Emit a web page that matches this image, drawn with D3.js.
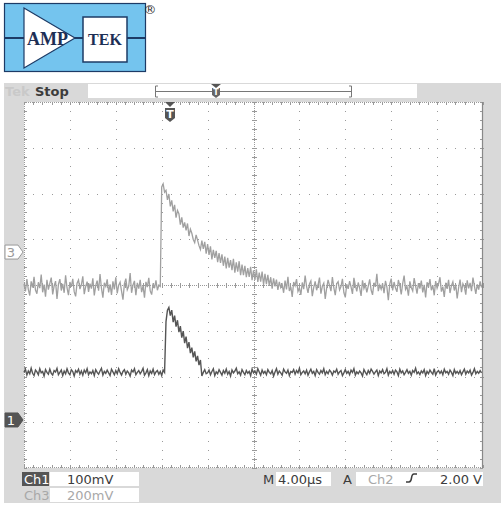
<!DOCTYPE html>
<html>
<head>
<meta charset="utf-8">
<title>Amptek scope capture</title>
<script src="https://d3js.org/d3.v7.min.js"></script>
<style>
  body { margin: 0; background: #fff; }
  text { font-family: "DejaVu Sans", sans-serif; }
</style>
</head>
<body>
<div id="chart"></div>
<script>
// settings
var timePerDiv = 4;      // us per division
var sampleStep = 0.125;  // us between samples
var ch1Scale = 100;      // mV per division
var ch3Scale = 200;
var ch1Ground = -2.95;   // ground marker position, divisions from centre
var ch3Ground = 0.72;

// Ch3 trace (mV), 320 samples
var ch3 = [
  -140,-172,-118,-163,-190,-128,-155,-108,-166,-182,
  -132,-158,-98,-176,-142,-195,-121,-164,-137,-112,
  -185,-148,-127,-205,-141,-118,-168,-139,-178,-102,
  -157,-188,-131,-152,-117,-173,-194,-136,-122,-162,
  -143,-106,-184,-151,-129,-174,-138,-160,-115,-190,
  -147,-125,-169,-96,-158,-199,-134,-150,-119,-176,
  -141,-187,-128,-163,-110,-181,-145,-132,-171,-208,
  -139,-116,-165,-150,-92,-178,-144,-126,-189,-135,
  -160,-121,-175,-148,-199,-130,-153,-113,-170,-186,
  -137,-158,-124,-167,-145,-150,
  285,298,262,270,228,254,200,226,178,206,
  150,182,168,120,152,107,130,95,125,70,
  100,82,55,41,75,52,28,11,50,14,
  45,-7,35,-12,25,-32,10,-25,5,-44,
  -5,-47,-10,-60,-20,-71,-25,-68,-35,-79,
  -30,-90,-45,-86,-40,-101,-55,-101,-60,-110,
  -70,-109,-65,-123,-80,-122,-75,-131,-90,-129,
  -85,-142,-95,-140,-100,-148,-110,-160,-115,-150,
  -120,-165,-130,-155,
  -142,-178,-125,-163,-108,-170,-152,-196,-131,-147,
  -118,-172,-157,-187,-133,-162,-103,-150,-178,-139,
  -126,-193,-154,-128,-167,-143,-112,-182,-149,-136,
  -205,-158,-122,-146,-171,-109,-156,-188,-138,-129,
  -166,-151,-117,-177,-198,-141,-161,-127,-152,-183,
  -113,-146,-172,-133,-157,-192,-124,-159,-142,-176,
  -149,-119,-166,-187,-134,-152,-95,-171,-144,-162,
  -137,-180,-126,-153,-210,-140,-116,-168,-131,-157,
  -174,-122,-147,-185,-138,-103,-163,-150,-191,-128,
  -155,-170,-114,-148,-182,-136,-160,-125,-176,-143,
  -198,-132,-154,-118,-167,-145,-189,-127,-158,-139,
  -110,-173,-151,-196,-134,-161,-121,-179,-147,-130,
  -168,-142,-203,-156,-120,-175,-138,-152,-186,-124,
  -159,-135,-171,-112,-149,-183,-141,-164,-128,-155];

// Ch1 trace (mV), 320 samples
var ch1 = [
  104,111,98,107,101,113,102,97,109,105,
  99,112,103,106,96,110,104,100,111,102,
  98,108,105,113,99,104,109,97,107,101,
  112,103,99,110,106,96,108,104,111,100,
  107,98,109,103,112,99,105,101,108,97,
  110,104,100,107,113,98,106,102,109,103,
  97,111,105,99,108,101,112,104,98,106,
  110,100,107,103,96,109,105,112,99,104,
  108,101,106,113,98,103,110,97,107,102,
  111,99,105,108,100,106,97,109,104,
  215,240,246,228,240,214,228,204,218,192,
  205,180,194,168,182,157,170,146,158,137,
  150,128,140,120,131,96,104,110,101,
  103,109,99,106,112,97,105,101,110,104,
  98,108,102,111,100,106,96,109,103,107,
  113,101,105,98,110,104,99,108,102,106,
  97,111,103,107,100,112,105,98,109,102,
  106,99,110,104,101,108,96,105,112,100,
  107,103,98,111,105,102,109,97,106,104,
  110,100,108,103,113,99,104,107,101,109,
  98,105,111,102,106,97,110,104,100,108,
  103,112,99,106,101,109,105,98,107,104,
  111,100,105,108,97,103,110,102,106,99,
  109,104,112,98,105,101,107,103,96,110,
  104,99,108,102,111,106,100,105,109,97,
  107,103,110,101,104,112,98,106,102,108,
  100,109,105,97,111,103,107,99,104,110,
  102,106,98,108,104,113,101,105,99,107,
  103,110,97,106,101,109,104,100,112,98,
  105,108,102,107,99,111,103,106,100,109,
  104,97,110,102,106,101,108,99,105,111,
  100,107,103,109,98,104,112,101,106,102,
  108,103];

var width = 501, height = 506;
var gx0 = 24, gx1 = 483, gy0 = 102, gy1 = 468;

var svg = d3.select("#chart").append("svg")
  .attr("width", width).attr("height", height);

// ---- logo ----
var logo = svg.append("g");
logo.append("rect").attr("x", 4.5).attr("y", 3.5).attr("width", 141).attr("height", 68)
  .attr("fill", "#74c4ee").attr("stroke", "#1d3b66").attr("stroke-width", 1.2);
logo.append("line").attr("x1", 4.5).attr("x2", 145.5).attr("y1", 38).attr("y2", 38)
  .attr("stroke", "#1d3b66").attr("stroke-width", 2);
logo.append("path").attr("d", "M24,8 L75,38 L24,68 Z")
  .attr("fill", "#fff").attr("stroke", "#1d3b66").attr("stroke-width", 1.2);
logo.append("rect").attr("x", 83).attr("y", 17).attr("width", 44).attr("height", 45)
  .attr("fill", "#fff").attr("stroke", "#1d3b66").attr("stroke-width", 1.5);
logo.append("text").attr("x", 27).attr("y", 45).text("AMP")
  .style("font-family", "'Liberation Serif', serif").style("font-weight", "bold")
  .style("font-size", "18px").attr("fill", "#1d2f55");
logo.append("text").attr("x", 105).attr("y", 45).attr("text-anchor", "middle").text("TEK")
  .style("font-family", "'Liberation Serif', serif").style("font-weight", "bold")
  .style("font-size", "16px").attr("fill", "#1d2f55");
logo.append("text").attr("x", 150).attr("y", 14).attr("text-anchor", "middle").text("®")
  .style("font-size", "13px").attr("fill", "#333");

// ---- scope frame ----
svg.append("rect").attr("x", 4).attr("y", 83).attr("width", 497).attr("height", 420)
  .attr("fill", "#d9d9d9");
svg.append("text").attr("x", 5).attr("y", 96).text("Tek")
  .style("font-size", "13px").style("font-weight", "bold").attr("fill", "#c9c9c9");
svg.append("text").attr("x", 35).attr("y", 96).text("Stop")
  .style("font-size", "13px").style("font-weight", "bold").attr("fill", "#3c3c3c");
svg.append("rect").attr("x", 88).attr("y", 84).attr("width", 329).attr("height", 14).attr("fill", "#fff");

// record position bar
var bar = svg.append("g").attr("stroke", "#777").attr("fill", "none");
bar.append("path").attr("d", "M158,86 L155.5,86 L155.5,97 L158,97");
bar.append("path").attr("d", "M349,86 L351.5,86 L351.5,97 L349,97");
bar.append("line").attr("x1", 156).attr("x2", 351).attr("y1", 91.5).attr("y2", 91.5);
svg.append("path").attr("d", "M211,84 L221,84 L216,88 Z").attr("fill", "#555");
svg.append("path").attr("d", "M212,88 L220,88 L220,95 L216,98 L212,95 Z").attr("fill", "#666");
svg.append("text").attr("x", 216).attr("y", 95).attr("text-anchor", "middle").text("T")
  .style("font-size", "8px").style("font-weight", "bold").attr("fill", "#fff");

// ---- graticule ----
var x = d3.scaleLinear().domain([0, 10 * timePerDiv]).range([gx0, gx1]);
var y = d3.scaleLinear().domain([-4, 4]).range([gy1, gy0]);

svg.append("rect").attr("x", gx0).attr("y", gy0).attr("width", gx1 - gx0).attr("height", gy1 - gy0)
  .attr("fill", "#fff");

var grid = svg.append("g").attr("fill", "#9a9a9a");
var xDivs = d3.range(1, 10), yDivs = d3.range(-3, 4);
var xMinor = d3.range(0, 50.01, 1).map(function (i) { return i * timePerDiv / 5; });
var yMinor = d3.range(-20, 20.01, 1).map(function (i) { return i / 5; });

// dotted gridlines
xDivs.forEach(function (d) {
  if (d === 5) return;
  yMinor.forEach(function (v) {
    grid.append("rect").attr("x", Math.round(x(d * timePerDiv))).attr("y", Math.round(y(v)))
      .attr("width", 1).attr("height", 1);
  });
});
yDivs.forEach(function (d) {
  if (d === 0) return;
  xMinor.forEach(function (t) {
    grid.append("rect").attr("x", Math.round(x(t))).attr("y", Math.round(y(d)))
      .attr("width", 1).attr("height", 1);
  });
});

// centre lines and edges with minor ticks
var cx = Math.round(x(5 * timePerDiv)), cy = Math.round(y(0));
var ticks = svg.append("g").attr("stroke", "#9a9a9a").attr("stroke-width", 1)
  .attr("stroke-dasharray", "1,1");
ticks.append("line").attr("x1", cx + 0.5).attr("x2", cx + 0.5).attr("y1", gy0).attr("y2", gy1);
ticks.append("line").attr("x1", gx0).attr("x2", gx1).attr("y1", cy + 0.5).attr("y2", cy + 0.5);
ticks.append("line").attr("x1", gx0).attr("x2", gx1).attr("y1", gy0 + 0.5).attr("y2", gy0 + 0.5);
ticks.append("line").attr("x1", gx0).attr("x2", gx1).attr("y1", gy1 - 0.5).attr("y2", gy1 - 0.5);
ticks.append("line").attr("x1", gx0 + 0.5).attr("x2", gx0 + 0.5).attr("y1", gy0).attr("y2", gy1);

var tk = svg.append("g").attr("stroke", "#9a9a9a").attr("stroke-width", 1);
xMinor.forEach(function (t) {
  var px = Math.round(x(t)) + 0.5;
  tk.append("line").attr("x1", px).attr("x2", px).attr("y1", cy - 2).attr("y2", cy + 3);
  tk.append("line").attr("x1", px).attr("x2", px).attr("y1", gy0).attr("y2", gy0 + 3);
  tk.append("line").attr("x1", px).attr("x2", px).attr("y1", gy1 - 3).attr("y2", gy1);
});
yMinor.forEach(function (v) {
  var py = Math.round(y(v)) + 0.5;
  tk.append("line").attr("x1", cx - 2).attr("x2", cx + 3).attr("y1", py).attr("y2", py);
  tk.append("line").attr("x1", gx0).attr("x2", gx0 + 3).attr("y1", py).attr("y2", py);
  tk.append("line").attr("x1", gx1 - 3).attr("x2", gx1).attr("y1", py).attr("y2", py);
});
svg.append("line").attr("x1", gx1 - 0.5).attr("x2", gx1 - 0.5).attr("y1", gy0).attr("y2", gy1)
  .attr("stroke", "#888").attr("stroke-width", 1.2);

// ---- traces ----
function traceLine(scale, ground) {
  return d3.line()
    .x(function (d, i) { return x(i * sampleStep); })
    .y(function (d) { return y(ground + d / scale); });
}
svg.append("path").datum(ch3).attr("d", traceLine(ch3Scale, ch3Ground))
  .attr("fill", "none").attr("stroke", "#a0a0a0").attr("stroke-width", 1.3);
svg.append("path").datum(ch1).attr("d", traceLine(ch1Scale, ch1Ground))
  .attr("fill", "none").attr("stroke", "#555").attr("stroke-width", 1.4);

// ---- channel ground markers ----
function marker(pos, label, dark) {
  var py = y(pos);
  svg.append("path")
    .attr("d", "M5," + (py - 7) + " L18," + (py - 7) + " L23," + py + " L18," + (py + 7) + " L5," + (py + 7) + " Z")
    .attr("fill", dark ? "#555" : "#fff").attr("stroke", dark ? "#555" : "#999");
  svg.append("text").attr("x", 11).attr("y", py + 5).attr("text-anchor", "middle").text(label)
    .style("font-size", "13px").attr("fill", dark ? "#fff" : "#999");
}
marker(ch3Ground, "3", false);
marker(ch1Ground, "1", true);

// trigger position marker
var tx = 170;
svg.append("path").attr("d", "M" + (tx - 5) + "," + gy0 + " L" + (tx + 5) + "," + gy0 + " L" + tx + "," + (gy0 + 5) + " Z")
  .attr("fill", "#555");
svg.append("path").attr("d", "M" + (tx - 5) + "," + (gy0 + 6) + " L" + (tx + 5) + "," + (gy0 + 6) + " L" + (tx + 5) + "," + (gy0 + 16) +
  " L" + tx + "," + (gy0 + 20) + " L" + (tx - 5) + "," + (gy0 + 16) + " Z").attr("fill", "#555");
svg.append("text").attr("x", tx).attr("y", gy0 + 16).attr("text-anchor", "middle").text("T")
  .style("font-size", "11px").style("font-weight", "bold").attr("fill", "#fff");

// ---- readouts ----
svg.append("rect").attr("x", 22).attr("y", 472).attr("width", 27).attr("height", 14).attr("fill", "#555");
svg.append("text").attr("x", 24).attr("y", 484).text("Ch1").style("font-size", "13px").attr("fill", "#fff");
svg.append("rect").attr("x", 50).attr("y", 472).attr("width", 89).attr("height", 14).attr("fill", "#fff");
svg.append("text").attr("x", 67).attr("y", 484).text("100mV").style("font-size", "13px").attr("fill", "#3c3c3c");
svg.append("text").attr("x", 24).attr("y", 500).text("Ch3").style("font-size", "13px").attr("fill", "#a8a8a8");
svg.append("rect").attr("x", 50).attr("y", 488).attr("width", 89).attr("height", 14).attr("fill", "#fff");
svg.append("text").attr("x", 67).attr("y", 500).text("200mV").style("font-size", "13px").attr("fill", "#a8a8a8");

svg.append("text").attr("x", 263).attr("y", 484).text("M").style("font-size", "13px").attr("fill", "#3c3c3c");
svg.append("rect").attr("x", 276).attr("y", 472).attr("width", 55).attr("height", 14).attr("fill", "#fff");
svg.append("text").attr("x", 278).attr("y", 484).text("4.00µs").style("font-size", "13px").attr("fill", "#3c3c3c");
svg.append("text").attr("x", 343).attr("y", 484).text("A").style("font-size", "13px").attr("fill", "#3c3c3c");
svg.append("rect").attr("x", 356).attr("y", 472).attr("width", 127).attr("height", 14).attr("fill", "#fff");
svg.append("text").attr("x", 368).attr("y", 484).text("Ch2").style("font-size", "13px").attr("fill", "#a8a8a8");
svg.append("path").attr("d", "M406,482 L409,482 Q411,482 411.5,478 Q412,474 414,474 L417,474")
  .attr("fill", "none").attr("stroke", "#3c3c3c").attr("stroke-width", 1.6);
svg.append("text").attr("x", 482).attr("y", 484).attr("text-anchor", "end").text("2.00 V")
  .style("font-size", "13px").attr("fill", "#3c3c3c");
</script>
</body>
</html>
